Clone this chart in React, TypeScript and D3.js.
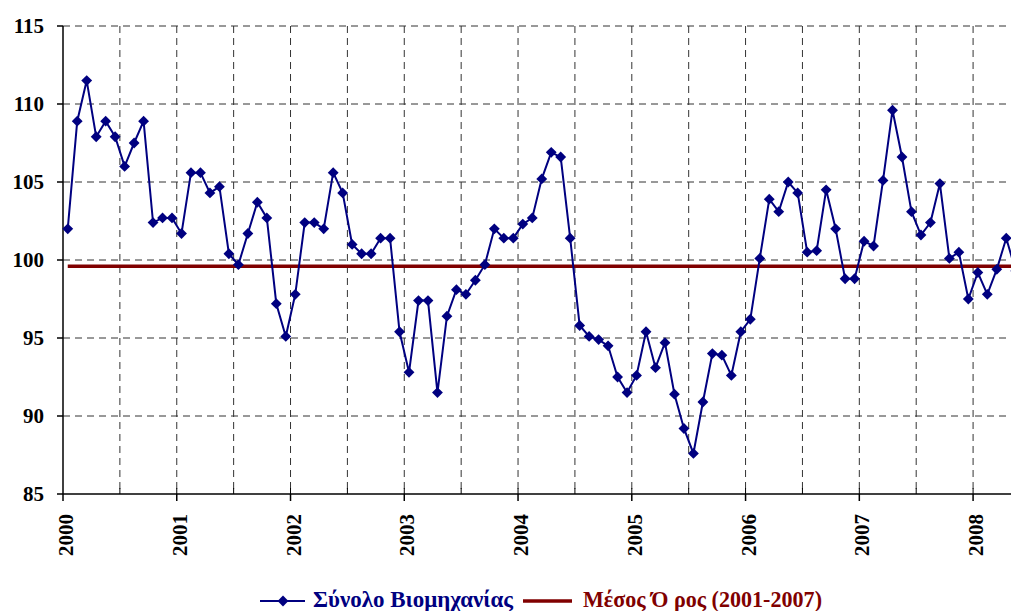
import React from "react";
import * as d3 from "d3";

const years = ["2000", "2001", "2002", "2003", "2004", "2005", "2006", "2007", "2008"];
const yTicks = [85, 90, 95, 100, 105, 110, 115];

const v2000 = [102.0, 108.9, 111.5, 107.9, 108.9, 107.9, 106.0, 107.5, 108.9, 102.4, 102.7, 102.7];
const v2001 = [101.7, 105.6, 105.6, 104.3, 104.7, 100.4, 99.7, 101.7, 103.7, 102.7, 97.2, 95.1];
const v2002 = [97.8, 102.4, 102.4, 102.0, 105.6, 104.3, 101.0, 100.4, 100.4, 101.4, 101.4, 95.4];
const v2003 = [92.8, 97.4, 97.4, 91.5, 96.4, 98.1, 97.8, 98.7, 99.7, 102.0, 101.4, 101.4];
const v2004 = [102.3, 102.7, 105.2, 106.9, 106.6, 101.4, 95.8, 95.1, 94.9, 94.5, 92.5, 91.5];
const v2005 = [92.6, 95.4, 93.1, 94.7, 91.4, 89.2, 87.6, 90.9, 94.0, 93.9, 92.6, 95.4];
const v2006 = [96.2, 100.1, 103.9, 103.1, 105.0, 104.3, 100.5, 100.6, 104.5, 102.0, 98.8, 98.8];
const v2007 = [101.2, 100.9, 105.1, 109.6, 106.6, 103.1, 101.6, 102.4, 104.9, 100.1, 100.5, 97.5];
const v2008 = [99.2, 97.8, 99.4, 101.4, 99.3];

const meanValue = 99.6;

const series = [...v2000, ...v2001, ...v2002, ...v2003, ...v2004, ...v2005, ...v2006, ...v2007, ...v2008];
const months = series.map((_, i) => `${2000 + Math.floor(i / 12)}-${String((i % 12) + 1).padStart(2, "0")}`);

const W = 1011;
const H = 611;
const left = 63;
const top = 26;
const bottom = 494;
const monthW = 9.48;

export default function App() {
  const x = d3.scaleBand<string>().domain(months).range([left, left + months.length * monthW]).padding(0);
  const y = d3.scaleLinear().domain([85, 115]).range([bottom, top]);
  const cx = (m: string) => (x(m) as number) + x.bandwidth() / 2;

  const line = d3.line<number>().x((_, i) => cx(months[i])).y((d) => y(d));
  const meanLine = d3.line<string>().x((m) => cx(m)).y(() => y(meanValue));
  const right = left + months.length * monthW;

  const halfYears = months.filter((_, i) => i % 6 === 0 && i > 0);
  const font = "'Liberation Serif', 'Times New Roman', serif";
  const diamond = d3.symbol().type(d3.symbolDiamond2).size(75)();

  return (
    <svg width={W} height={H} style={{ position: "absolute", left: 0, top: 0, background: "#fff" }} fontFamily={font}>
      {yTicks.filter((t) => t > 85).map((t) => (
        <line key={"h" + t} x1={left} x2={right} y1={y(t)} y2={y(t)} stroke="#333" strokeWidth={1} strokeDasharray="7,5" />
      ))}
      {halfYears.map((m) => (
        <line key={"v" + m} x1={x(m)} x2={x(m)} y1={top} y2={bottom} stroke="#333" strokeWidth={1} strokeDasharray="7,5" />
      ))}
      <line x1={left} x2={left} y1={top} y2={bottom} stroke="#000" strokeWidth={1.5} />
      <line x1={left} x2={right} y1={bottom} y2={bottom} stroke="#000" strokeWidth={1.5} />
      {yTicks.map((t) => (
        <g key={"yt" + t}>
          <line x1={left - 6} x2={left} y1={y(t)} y2={y(t)} stroke="#000" strokeWidth={1.5} />
          <text x={44} y={y(t)} dy="0.35em" textAnchor="end" fontSize={21} fontWeight="bold">{t}</text>
        </g>
      ))}
      {halfYears.map((m) => (
        <line key={"mt" + m} x1={x(m)} x2={x(m)} y1={bottom - 6} y2={bottom} stroke="#000" strokeWidth={1} />
      ))}
      {years.map((yr) => {
        const m = `${yr}-01`;
        const px = x(m) as number;
        return (
          <g key={"xt" + yr}>
            <line x1={px} x2={px} y1={bottom} y2={bottom + 7} stroke="#000" strokeWidth={1.5} />
            <text transform={`translate(${px + 10},514) rotate(-90)`} textAnchor="end" fontSize={21} fontWeight="bold">{yr}</text>
          </g>
        );
      })}
      <path d={meanLine(months) as string} fill="none" stroke="#800000" strokeWidth={3.5} />
      <path d={line(series) as string} fill="none" stroke="#000080" strokeWidth={2} />
      {series.map((v, i) => (
        <path key={"p" + i} d={diamond as string} transform={`translate(${cx(months[i])},${y(v)})`} fill="#000080" />
      ))}
      <g>
        <line x1={260} x2={305} y1={601} y2={601} stroke="#000080" strokeWidth={2} />
        <path d={diamond as string} transform="translate(283,601)" fill="#000080" />
        <text x={313} y={607} fontSize={23} fontWeight="bold" fill="#000080" textLength={200} lengthAdjust="spacingAndGlyphs">Σύνολο Βιομηχανίας</text>
        <line x1={523} x2={572} y1={601} y2={601} stroke="#800000" strokeWidth={3.5} />
        <text x={583} y={607} fontSize={23} fontWeight="bold" fill="#800000" textLength={239} lengthAdjust="spacingAndGlyphs">Μέσος Ό ρος (2001-2007)</text>
      </g>
    </svg>
  );
}
